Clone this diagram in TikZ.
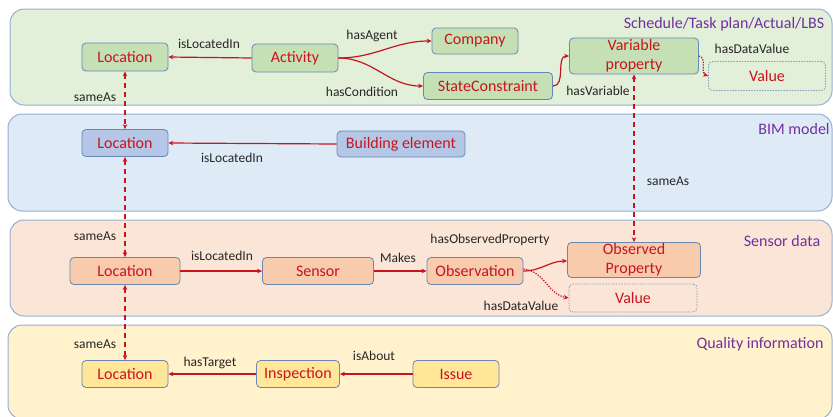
\documentclass[tikz,border=0pt]{standalone}
\usepackage{fontspec}
\setmainfont{Carlito}
\usetikzlibrary{arrows.meta}

\definecolor{edgered}{RGB}{200,20,30}
\definecolor{titlepurple}{RGB}{112,48,160}
\definecolor{bandline}{RGB}{150,175,210}
\definecolor{boxline}{RGB}{105,135,180}
\definecolor{greenband}{RGB}{226,239,217}
\definecolor{greenbox}{RGB}{197,224,180}
\definecolor{blueband}{RGB}{222,235,247}
\definecolor{bluebox}{RGB}{180,199,231}
\definecolor{orangeband}{RGB}{251,229,214}
\definecolor{orangebox}{RGB}{248,203,173}
\definecolor{yellowband}{RGB}{255,242,204}
\definecolor{yellowbox}{RGB}{255,230,153}

\tikzset{
  band/.style={draw=bandline, line width=1pt, rounded corners=14pt},
  concept/.style={draw=boxline, line width=0.8pt, rounded corners=4pt,
    text=edgered, inner sep=0pt, align=center,
    font=\fontsize{16}{19}\selectfont},
  literal/.style={concept, draw=boxline!80, dash pattern=on 1.5pt off 1.2pt},
  rel/.style={font=\fontsize{13.5}{15}\selectfont, text=black!85, inner sep=0pt},
  bandtitle/.style={font=\fontsize{16}{18}\selectfont, text=titlepurple, inner sep=0pt},
  link/.style={draw=edgered, line width=1.2pt,
    -{Stealth[length=5pt,width=4.5pt]}},
  datalink/.style={link, dash pattern=on 1.3pt off 1.3pt},
  sameas/.style={draw=edgered, line width=1.4pt, dash pattern=on 5pt off 4pt,
    {Stealth[length=5pt,width=4.5pt]}-{Stealth[length=5pt,width=4.5pt]}}
}

\begin{document}
\begin{tikzpicture}[x=1pt,y=-1pt]
\useasboundingbox (0,0) rectangle (833,416);

% layer bands
\path[band, fill=greenband]  (10,9)   rectangle (832,105);
\path[band, fill=blueband]   (8,114)  rectangle (832,211);
\path[band, fill=orangeband] (10,220) rectangle (832,316);
\path[band, fill=yellowband] (8,325)  rectangle (832,419);

% band titles
\node[bandtitle] (t1) at (724,24)  {Schedule/Task plan/Actual/LBS};
\node[bandtitle] (t2) at (794,129) {BIM model};
\node[bandtitle] (t3) at (782,241) {Sensor data};
\node[bandtitle] (t4) at (760,344) {Quality information};

% schedule / task plan layer
\node[concept, fill=greenbox, minimum width=86pt, minimum height=28pt]  (loc1) at (125,57) {Location};
\node[concept, fill=greenbox, minimum width=86pt, minimum height=28pt]  (act)  at (295,58) {Activity};
\node[concept, fill=greenbox, minimum width=86pt, minimum height=26pt]  (comp) at (475,41) {Company};
\node[concept, fill=greenbox, minimum width=129pt, minimum height=27pt] (sc)   at (488,86) {StateConstraint};
\node[concept, fill=greenbox, minimum width=129pt, minimum height=36pt] (var) at (634,56) {Variable\\property};
\node[literal, fill=greenband, minimum width=117pt, minimum height=29pt] (val1) at (767,76) {Value};

% BIM layer
\node[concept, fill=bluebox, minimum width=86pt, minimum height=27pt]  (loc2) at (125,143) {Location};
\node[concept, fill=bluebox, minimum width=128pt, minimum height=26pt] (bel)  at (401,144) {Building element};

% sensor layer
\node[concept, fill=orangebox, minimum width=110pt, minimum height=27pt] (loc3) at (125,271) {Location};
\node[concept, fill=orangebox, minimum width=111pt, minimum height=27pt] (sens) at (318,271) {Sensor};
\node[concept, fill=orangebox, minimum width=96pt, minimum height=27pt]  (obs)  at (475,271) {Observation};
\node[concept, fill=orangebox, minimum width=133pt, minimum height=35pt] (oprop) at (634,260) {Observed\\Property};
\node[literal, fill=orangeband, minimum width=128pt, minimum height=28pt] (val2) at (633,298) {Value};

% quality layer
\node[concept, fill=yellowbox, minimum width=86pt, minimum height=27pt] (loc4) at (125,374) {Location};
\node[concept, fill=yellowbox, minimum width=83pt, minimum height=27pt] (insp) at (298,374) {Inspection};
\node[concept, fill=yellowbox, minimum width=86pt, minimum height=27pt] (iss)  at (456,374) {Issue};

% relations
\draw[link] (act.west) -- (loc1.east);
\draw[link] (act.east) to[out=0,in=180] (comp.west);
\draw[link] (act.east) to[out=0,in=180] (sc.west);
\draw[link] (sc.east) to[out=0,in=180] (var.west);
\draw[datalink] (var.east) to[out=-10,in=160] (val1.west);
\draw[link] (bel.west) -- (loc2.east);
\draw[link] (loc3.east) -- (sens.west);
\draw[link] (sens.east) -- (obs.west);
\draw[link] (obs.east) to[out=0,in=180] ([yshift=-1pt]oprop.west);
\draw[datalink] ([yshift=2pt]obs.east) to[out=-5,in=170] (val2.west);
\draw[link] (iss.west) -- (insp.east);
\draw[link] (insp.west) -- (loc4.east);

% sameAs links between layers
\draw[sameas] (loc1.south) -- (loc2.north);
\draw[sameas] (loc2.south) -- (loc3.north);
\draw[sameas] (loc3.south) -- (loc4.north);
\draw[sameas] (var.south) -- (oprop.north);

% relation labels
\node[rel] (l1)  at (209,44)  {isLocatedIn};
\node[rel] (l2)  at (372,36)  {hasAgent};
\node[rel] (l3)  at (362,92)  {hasCondition};
\node[rel] (l4)  at (598,91)  {hasVariable};
\node[rel] (l5)  at (752,49)  {hasDataValue};
\node[rel] (l6)  at (95,97)   {sameAs};
\node[rel] (l7)  at (232,158) {isLocatedIn};
\node[rel] (l8)  at (668,181) {sameAs};
\node[rel] (l9)  at (95,236)  {sameAs};
\node[rel] (l10) at (222,256) {isLocatedIn};
\node[rel] (l11) at (398,258) {Makes};
\node[rel] (l12) at (490,240) {hasObservedProperty};
\node[rel] (l13) at (521,306) {hasDataValue};
\node[rel] (l14) at (95,344)  {sameAs};
\node[rel] (l15) at (210,363) {hasTarget};
\node[rel] (l16) at (374,356) {isAbout};
\end{tikzpicture}
\end{document}
